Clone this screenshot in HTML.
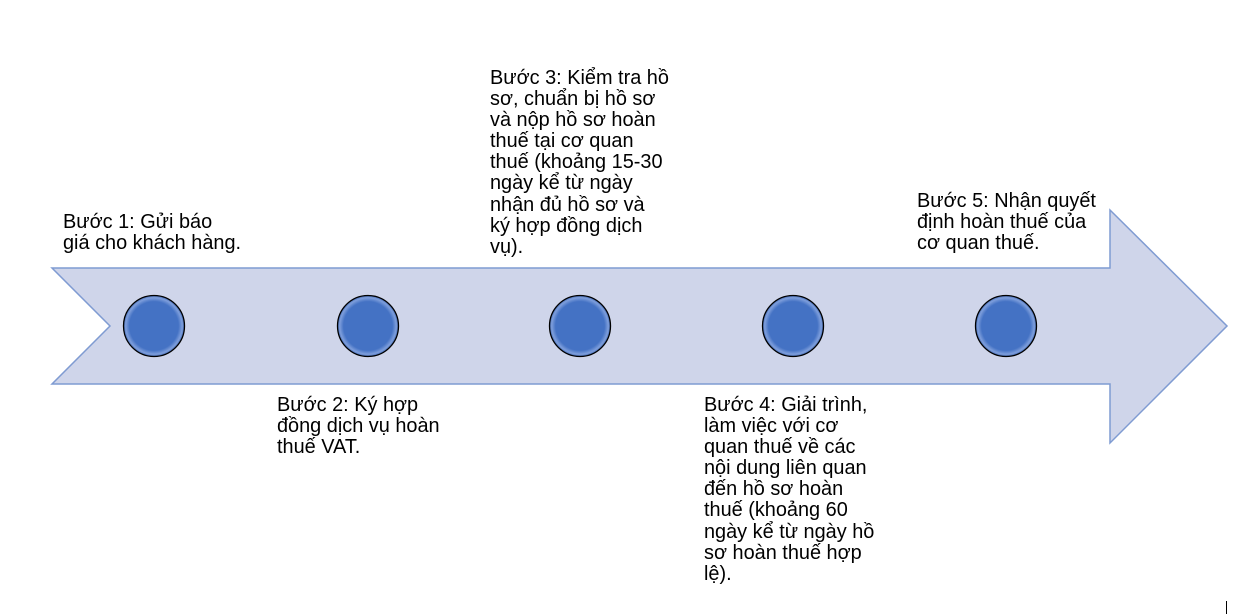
<!DOCTYPE html>
<html><head><meta charset="utf-8"><style>
html,body{margin:0;padding:0;background:#fff;}
body{width:1234px;height:614px;position:relative;overflow:hidden;font-family:"Liberation Sans",Arial,sans-serif;}
.t{position:absolute;font-size:19.9px;line-height:21.1px;color:#000;white-space:nowrap;}
</style></head><body>
<svg width="1234" height="614" style="position:absolute;left:0;top:0">
<defs>
<radialGradient id="g" cx="50%" cy="50%" r="50%">
<stop offset="0%" stop-color="#4472c4"/>
<stop offset="80%" stop-color="#4472c4"/>
<stop offset="93%" stop-color="#7f9fdc"/>
<stop offset="100%" stop-color="#3a62ad"/>
</radialGradient>
</defs>
<polygon points="52,268 1110,268 1110,210 1227,326 1110,443 1110,384 52,384 110,326" fill="#cfd5ea" stroke="#7f9bd2" stroke-width="1.5"/>
<g stroke="#000" stroke-width="1.3" fill="url(#g)">
<circle cx="154" cy="326" r="30.5"/>
<circle cx="368" cy="326" r="30.5"/>
<circle cx="580" cy="326" r="30.5"/>
<circle cx="793" cy="326" r="30.5"/>
<circle cx="1006" cy="326" r="30.5"/>
</g>
<line x1="1226.5" y1="601" x2="1226.5" y2="614" stroke="#000" stroke-width="1"/>
</svg>
<div class="t" style="left:63px;top:212px">Bước 1: Gửi báo<br>giá cho khách hàng.</div>
<div class="t" style="left:277px;top:395px">Bước 2: Ký hợp<br>đồng dịch vụ hoàn<br>thuế VAT.</div>
<div class="t" style="left:490px;top:68px">Bước 3: Kiểm tra hồ<br>sơ, chuẩn bị hồ sơ<br>và nộp hồ sơ hoàn<br>thuế tại cơ quan<br>thuế (khoảng 15-30<br>ngày kể từ ngày<br>nhận đủ hồ sơ và<br>ký hợp đồng dịch<br>vụ).</div>
<div class="t" style="left:704px;top:395px">Bước 4: Giải trình,<br>làm việc với cơ<br>quan thuế về các<br>nội dung liên quan<br>đến hồ sơ hoàn<br>thuế (khoảng 60<br>ngày kể từ ngày hồ<br>sơ hoàn thuế hợp<br>lệ).</div>
<div class="t" style="left:917px;top:191px">Bước 5: Nhận quyết<br>định hoàn thuế của<br>cơ quan thuế.</div>
</body></html>
